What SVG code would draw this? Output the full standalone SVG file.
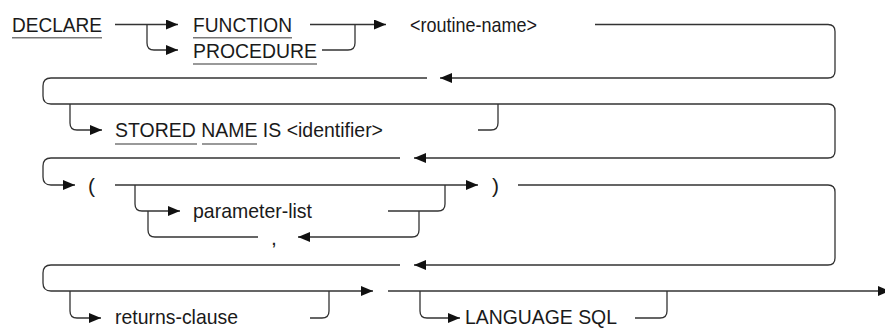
<svg xmlns="http://www.w3.org/2000/svg" width="885" height="329" viewBox="0 0 885 329">
<style>
  .t { font-family: "Liberation Sans", Arial, sans-serif; font-size: 21px; fill: #1a1a1a; }
  .c path { fill: none; stroke: #333; stroke-width: 1.3; }
  .c path.a { marker-end: url(#arr); }
  .u { stroke: #777; stroke-width: 1.6; }
</style>
<defs>
  <marker id="arr" markerUnits="userSpaceOnUse" markerWidth="13" markerHeight="11" refX="12" refY="5" orient="auto">
    <path d="M0,0 L12,5 L0,10 z" fill="#111"/>
  </marker>
</defs>
<rect width="885" height="329" fill="#fff"/>
<g class="c" id="connectors">
  <path class="a" d="M115,24.5 H178"/>
  <path class="a" d="M147,24.5 V43 Q147,50 154,50 H178"/>
  <path class="a" d="M310,24.5 H386"/>
  <path d="M322,50 H348 Q355,50 355,43 V24.5"/>
  <path class="a" d="M595,24.5 H828 Q835,24.5 835,31.5 V71 Q835,78 828,78 H440"/>
  <path class="a" d="M427,78 H51 Q43,78 43,86 V96 Q43,104 51,104 H828 Q835,104 835,111 V151 Q835,158 828,158 H414"/>
  <path class="a" d="M70,104 V123 Q70,130 77,130 H102"/>
  <path d="M478,130 H491 Q498,130 498,123 V104"/>
  <path class="a" d="M400,158 H51 Q43,158 43,166 V177 Q43,185 51,185 H75"/>
  <path class="a" d="M115,185 H478"/>
  <path class="a" d="M135,185 V204 Q135,211 142,211 H180"/>
  <path d="M388,211 H438 Q445,211 445,204 V185"/>
  <path class="a" d="M419,211 V230 Q419,237 412,237 H298"/>
  <path d="M258,237 H155 Q148,237 148,230 V211"/>
  <path class="a" d="M518,185 H828 Q835,185 835,192 V258 Q835,265 828,265 H414"/>
  <path class="a" d="M400,265 H51 Q43,265 43,273 V283 Q43,291 51,291 H373"/>
  <path class="a" d="M70,291 V311 Q70,318 77,318 H101"/>
  <path d="M310,318 H322 Q329,318 329,311 V291"/>
  <path class="a" d="M388,291 H890"/>
  <path class="a" d="M420,291 V311 Q420,318 427,318 H460"/>
  <path d="M635,318 H660 Q667,318 667,311 V291"/>
</g>
<g id="declare">
  <text class="t" x="12" y="31.5" textLength="90" lengthAdjust="spacingAndGlyphs">DECLARE</text>
  <line class="u" x1="12" y1="37.7" x2="102" y2="37.7"/>
</g>
<g id="function">
  <text class="t" x="193" y="31.5" textLength="99" lengthAdjust="spacingAndGlyphs">FUNCTION</text>
  <line class="u" x1="193" y1="37.7" x2="292" y2="37.7"/>
</g>
<g id="procedure">
  <text class="t" x="193" y="58" textLength="124" lengthAdjust="spacingAndGlyphs">PROCEDURE</text>
  <line class="u" x1="193" y1="64" x2="317" y2="64"/>
</g>
<g id="routine-name">
  <text class="t" x="410" y="31.5" textLength="127" lengthAdjust="spacingAndGlyphs">&lt;routine-name&gt;</text>
</g>
<g id="stored-name">
  <text class="t" x="115" y="137" textLength="268" lengthAdjust="spacingAndGlyphs">STORED NAME IS &lt;identifier&gt;</text>
  <line class="u" x1="115" y1="144" x2="197" y2="144"/>
  <line class="u" x1="202" y1="144" x2="257" y2="144"/>
</g>
<g id="lparen">
  <text class="t" x="88" y="193">(</text>
</g>
<g id="parameter-list">
  <text class="t" x="193" y="218" textLength="119" lengthAdjust="spacingAndGlyphs">parameter-list</text>
</g>
<g id="comma">
  <text class="t" x="271" y="245">,</text>
</g>
<g id="rparen">
  <text class="t" x="492" y="193">)</text>
</g>
<g id="returns-clause">
  <text class="t" x="115" y="324" textLength="123" lengthAdjust="spacingAndGlyphs">returns-clause</text>
</g>
<g id="language-sql">
  <text class="t" x="465" y="324" textLength="152" lengthAdjust="spacingAndGlyphs">LANGUAGE SQL</text>
</g>
</svg>
